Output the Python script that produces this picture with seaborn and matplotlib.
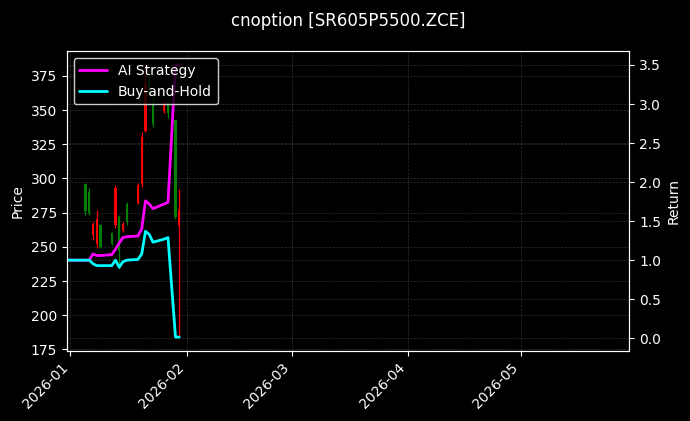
import pandas as pd
import matplotlib.pyplot as plt
import matplotlib.dates as mdates
import seaborn as sns

# daily bars of the option
candle_dates = ["2026-01-05", "2026-01-06", "2026-01-07", "2026-01-08", "2026-01-09",
                "2026-01-12", "2026-01-13", "2026-01-14", "2026-01-15", "2026-01-16",
                "2026-01-19", "2026-01-20", "2026-01-21", "2026-01-22", "2026-01-23",
                "2026-01-26", "2026-01-27", "2026-01-29", "2026-01-30"]
opens = [296, 290, 259, 252, 266, 260, 266, 272, 262, 281, 282, 296, 335, 372, 355, 349, 356, 343, 265]
highs = [297, 293, 268, 277, 267, 261, 295, 273, 268, 283, 297, 334, 383, 378, 362, 357, 357, 343, 292]
lows = [273, 273, 255, 249, 249, 251, 264, 234, 261, 266, 281, 294, 334, 362, 338, 348, 344, 270, 184]
closes = [276, 275, 267, 270, 250, 252, 293, 247, 267, 268, 295, 330, 370, 366, 340, 355, 348, 272, 277]

# cumulative returns
line_dates = ["2025-12-31"] + candle_dates
ai_strategy = [1.0, 1.0, 1.0, 1.08, 1.06, 1.06, 1.07, 1.14, 1.22, 1.29, 1.30, 1.31, 1.40,
               1.76, 1.72, 1.66, 1.72, 1.74, 3.5, 3.5]
buy_hold = [1.0, 1.0, 1.0, 0.955, 0.93, 0.93, 0.93, 1.0, 0.91, 0.98, 1.0, 1.01, 1.08,
            1.37, 1.33, 1.23, 1.27, 1.29, 0.015, 0.015]

plt.style.use("dark_background")
sns.set_style("dark", {"axes.facecolor": "black", "figure.facecolor": "black",
                       "axes.edgecolor": "white", "text.color": "white",
                       "axes.labelcolor": "white", "xtick.color": "white",
                       "ytick.color": "white", "xtick.bottom": True, "ytick.left": True})
plt.rcParams["font.family"] = ["DejaVu Sans"]

df = pd.DataFrame({"date": pd.to_datetime(candle_dates), "open": opens, "high": highs,
                   "low": lows, "close": closes})
ret = pd.DataFrame({"date": pd.to_datetime(line_dates), "ai": ai_strategy, "bh": buy_hold})

fig, ax1 = plt.subplots(figsize=(6.9, 4.21), dpi=100)
fig.subplots_adjust(left=0.0967, right=0.912, bottom=0.167, top=0.878)

cols = ["red" if c >= o else "green" for o, c in zip(df["open"], df["close"])]
ax1.vlines(df["date"], df["low"], df["high"], colors=cols, linewidth=0.9)
body_bottom = df[["open", "close"]].min(axis=1)
body_height = (df["close"] - df["open"]).abs()
ax1.bar(df["date"], body_height, bottom=body_bottom, width=0.55, color=cols,
        edgecolor=cols, linewidth=0)

ax1.set_ylabel("Price")
ax1.grid(True, color="gray", linestyle="--", linewidth=0.5, alpha=0.35)
ax1.xaxis.set_major_locator(mdates.MonthLocator())
ax1.xaxis.set_major_formatter(mdates.DateFormatter("%Y-%m"))
plt.setp(ax1.get_xticklabels(), rotation=45, ha="right")

ax2 = ax1.twinx()
sns.lineplot(data=ret, x="date", y="ai", ax=ax2, color="#ff00ff", linewidth=2, label="AI Strategy")
sns.lineplot(data=ret, x="date", y="bh", ax=ax2, color="#00ffff", linewidth=2, label="Buy-and-Hold")
ax2.set_ylabel("Return")
ax2.set_xlabel("")
ax1.set_xlabel("")
ax2.grid(True, axis="y", color="gray", linestyle="--", linewidth=0.5, alpha=0.35)
ax2.legend(loc="upper left", facecolor="black", edgecolor="white")

ax1.set_xlim(pd.Timestamp("2025-12-31"), pd.Timestamp("2026-05-30"))
ax1.set_title("cnoption [SR605P5500.ZCE]", fontsize=12, pad=18)

fig.savefig("out.png", dpi=100, facecolor="black")
